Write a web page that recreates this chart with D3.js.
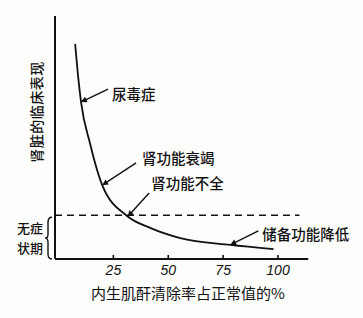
<!DOCTYPE html>
<html>
<head>
<meta charset="utf-8">
<script src="https://cdn.jsdelivr.net/npm/d3@7"></script>
<style>
  body { margin: 0; background: #fdfdfc; }
  svg { display: block; }
  text { font-family: "Noto Sans CJK SC", sans-serif; fill: #111; }
</style>
</head>
<body>
<svg id="chart" width="363" height="318"></svg>
<script>
// clearance (% of normal) vs. clinical severity (arbitrary units)
const curveX = [7.8, 9.1, 10.5, 14.6, 20.1, 31.5, 42.0, 55.7, 78.5, 98.2];
const curveY = [88.5, 75.7, 64.6, 47.5, 30.5, 17.7, 12.8, 8.6, 5.8, 4.1];
const threshold = 18;
const xTicks = [25, 50, 75, 100];

const labels = ['尿毒症', '肾功能衰竭', '肾功能不全', '储备功能降低'];
const labelAtX = [10.5, 20.1, 31.5, 78.5];
const labelAtY = [64.6, 30.5, 17.7, 5.8];

const xTitle = '内生肌酐清除率占正常值的%';
const yTitle = '肾脏的临床表现';
const braceText = ['无症', '状期'];

const svg = d3.select('#chart');

let x = d3.scaleLinear().domain([0, 100]).range([58, 277.5]);
let y = d3.scaleLinear().domain([0, 100]).range([259, 16]);
let axisLeftX = 55;

svg.append('defs').append('marker')
  .attr('id', 'head')
  .attr('viewBox', '0 0 10 10')
  .attr('refX', 6).attr('refY', 5)
  .attr('markerWidth', 8).attr('markerHeight', 6)
  .attr('markerUnits', 'userSpaceOnUse')
  .attr('orient', 'auto')
  .append('path')
  .attr('d', 'M0,0 L10,5 L0,10 Z')
  .attr('fill', '#111');

// axes
svg.append('line')
  .attr('x1', axisLeftX).attr('x2', axisLeftX)
  .attr('y1', y(100)).attr('y2', y(0))
  .attr('stroke', '#111').attr('stroke-width', 2);
svg.append('line')
  .attr('x1', axisLeftX).attr('x2', x(114))
  .attr('y1', y(0)).attr('y2', y(0))
  .attr('stroke', '#111').attr('stroke-width', 2);

let xAxis = svg.append('g')
  .attr('transform', 'translate(0,' + y(0) + ')')
  .call(d3.axisBottom(x).tickValues(xTicks).tickSize(-4).tickSizeOuter(0).tickPadding(6));
xAxis.select('.domain').remove();
xAxis.selectAll('.tick line').attr('stroke', '#111').attr('stroke-width', 1.6);
xAxis.selectAll('.tick text')
  .attr('fill', '#111')
  .style('font-family', '"Liberation Sans", sans-serif')
  .style('font-style', 'italic')
  .style('font-size', '14px');

// threshold line
svg.append('line')
  .attr('x1', axisLeftX).attr('x2', x(110))
  .attr('y1', y(threshold)).attr('y2', y(threshold))
  .attr('stroke', '#111').attr('stroke-width', 1.4)
  .attr('stroke-dasharray', '7,5');

// curve
let pts = curveX.map((d, i) => [d, curveY[i]]);
svg.append('path')
  .datum(pts)
  .attr('d', d3.line().x(d => x(d[0])).y(d => y(d[1])).curve(d3.curveMonotoneX))
  .attr('fill', 'none')
  .attr('stroke', '#111')
  .attr('stroke-width', 1.8);

// annotations (offsets from target point: arrow start, text start)
let offs = [[27, -13, 31, -9], [34, -22, 40, -27], [22, -23, 24, -33], [28, -14, 32, -11]];
labels.forEach(function(lab, i) {
  let tx = x(labelAtX[i]), ty = y(labelAtY[i]);
  let o = offs[i];
  svg.append('line')
    .attr('x1', tx + o[0]).attr('y1', ty + o[1])
    .attr('x2', tx + 2).attr('y2', ty - 1)
    .attr('stroke', '#111').attr('stroke-width', 1.4)
    .attr('marker-end', 'url(#head)');
  svg.append('text')
    .attr('x', tx + o[2]).attr('y', ty + o[3])
    .attr('dominant-baseline', 'central')
    .style('font-size', '14.5px')
    .style('font-weight', 500)
    .text(lab);
});

// brace for the asymptomatic zone
let b0 = y(threshold) + 2, b1 = y(0), bm = (b0 + b1) / 2, bx = 52;
svg.append('path')
  .attr('d', 'M' + bx + ',' + b0 + ' Q' + (bx - 4) + ',' + b0 + ' ' + (bx - 4) + ',' + (b0 + 5) +
    ' L' + (bx - 4) + ',' + (bm - 4) + ' Q' + (bx - 4) + ',' + bm + ' ' + (bx - 7) + ',' + bm +
    ' Q' + (bx - 4) + ',' + bm + ' ' + (bx - 4) + ',' + (bm + 4) +
    ' L' + (bx - 4) + ',' + (b1 - 5) + ' Q' + (bx - 4) + ',' + b1 + ' ' + bx + ',' + b1)
  .attr('fill', 'none').attr('stroke', '#111').attr('stroke-width', 1.4);
braceText.forEach(function(t, i) {
  svg.append('text')
    .attr('x', 30).attr('y', 227 + i * 20)
    .attr('text-anchor', 'middle')
    .attr('dominant-baseline', 'central')
    .style('font-size', '13px')
    .style('font-weight', 500)
    .text(t);
});

// titles
svg.append('text')
  .attr('x', 188).attr('y', 292)
  .attr('text-anchor', 'middle')
  .attr('dominant-baseline', 'central')
  .style('font-size', '15px')
  .text(xTitle);
svg.append('text')
  .attr('transform', 'translate(36,112) rotate(-90)')
  .attr('text-anchor', 'middle')
  .attr('dominant-baseline', 'central')
  .style('font-size', '14px')
  .style('font-weight', 500)
  .style('letter-spacing', '0.5px')
  .text(yTitle);
</script>
</body>
</html>
